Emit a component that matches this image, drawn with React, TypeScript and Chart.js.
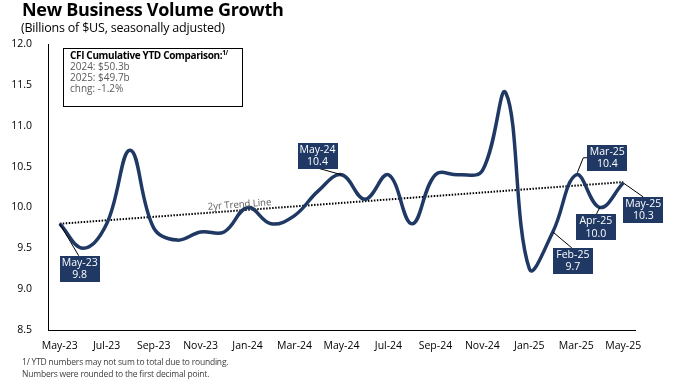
import React, { useEffect, useRef } from 'react';
import { Chart, registerables } from 'chart.js';

Chart.register(...registerables);

const months = [
  'May-23', 'Jun-23', 'Jul-23', 'Aug-23', 'Sep-23', 'Oct-23', 'Nov-23', 'Dec-23',
  'Jan-24', 'Feb-24', 'Mar-24', 'Apr-24', 'May-24', 'Jun-24', 'Jul-24', 'Aug-24',
  'Sep-24', 'Oct-24', 'Nov-24', 'Dec-24', 'Jan-25', 'Feb-25', 'Mar-25', 'Apr-25', 'May-25',
];

const volume = [
  9.8, 9.5, 9.8, 10.7, 9.75, 9.6, 9.7, 9.7,
  10.0, 9.8, 9.9, 10.2, 10.4, 10.1, 10.4, 9.8,
  10.4, 10.4, 10.45, 11.4, 9.25, 9.7, 10.4, 10.0, 10.3,
];

const trendStart = 9.8;
const trendEnd = 10.31;

const yMin = 8.5;
const yMax = 12.0;
const yStep = 0.5;

const calloutMonths = ['May-23', 'May-24', 'Feb-25', 'Mar-25', 'Apr-25', 'May-25'];

const legendTitle = 'CFI Cumulative YTD Comparison:';
const legendLines = ['2024: $50.3b', '2025: $49.7b', 'chng: -1.2%'];
const footnotes = [
  '1/ YTD numbers may not sum to total due to rounding.',
  'Numbers were rounded to the first decimal point.',
];

const NAVY = '#1f3864';
const FONT = '"Open Sans", "DejaVu Sans", sans-serif';

// callout box placement relative to its point (pixels)
const calloutLayout: Record<string, { dx: number; dy: number; elbow?: boolean; lx?: number; ly?: number }> = {
  'May-23': { dx: 20, dy: 45, lx: 19, ly: 32 },
  'May-24': { dx: -24, dy: -19, lx: -25, ly: -7 },
  'Feb-25': { dx: 20, dy: 29, lx: 19, ly: 16 },
  'Mar-25': { dx: 31, dy: -17, elbow: true },
  'Apr-25': { dx: -4, dy: 20, lx: -4, ly: 8 },
  'May-25': { dx: 20, dy: 27, lx: 20, ly: 14 },
};

const calloutPlugin = {
  id: 'callouts',
  afterDatasetsDraw(chart: any) {
    const ctx = chart.ctx;
    const meta = chart.getDatasetMeta(0);
    // trend label
    const tmeta = chart.getDatasetMeta(1);
    const p0 = tmeta.data[0];
    const p1 = tmeta.data[1];
    if (p0 && p1) {
      const ang = Math.atan2(p1.y - p0.y, p1.x - p0.x);
      const tx = 240;
      const ty = p0.y + (p1.y - p0.y) * (tx - p0.x) / (p1.x - p0.x);
      ctx.save();
      ctx.translate(tx, ty);
      ctx.rotate(ang);
      ctx.fillStyle = '#595959';
      ctx.font = `9.5px ${FONT}`;
      ctx.textAlign = 'center';
      ctx.textBaseline = 'alphabetic';
      ctx.fillText('2yr Trend Line', 0, -3);
      ctx.restore();
    }

    const bw = 40;
    const bh = 26;
    calloutMonths.forEach((m) => {
      const i = months.indexOf(m);
      const pt = meta.data[i];
      if (!pt) return;
      const lay = calloutLayout[m];
      const cx = pt.x + lay.dx;
      const cy = pt.y + lay.dy;
      ctx.save();
      ctx.strokeStyle = '#000';
      ctx.lineWidth = 1;
      ctx.beginPath();
      if (lay.elbow) {
        const left = cx - bw / 2;
        ctx.moveTo(pt.x + 1, pt.y - 2);
        ctx.lineTo(left - 4, cy);
        ctx.lineTo(left, cy);
      } else {
        ctx.moveTo(pt.x, pt.y);
        ctx.lineTo(pt.x + (lay.lx ?? 0), pt.y + (lay.ly ?? 0));
      }
      ctx.stroke();
      ctx.fillStyle = NAVY;
      ctx.fillRect(Math.round(cx - bw / 2), Math.round(cy - bh / 2), bw, bh);
      ctx.fillStyle = '#ffffff';
      ctx.font = `10.5px ${FONT}`;
      ctx.textAlign = 'center';
      ctx.textBaseline = 'middle';
      ctx.fillText(m, cx, cy - 6);
      ctx.fillText(volume[i].toFixed(1), cx, cy + 6.5);
      ctx.restore();
    });
  },
};

export default function App() {
  const ref = useRef<HTMLCanvasElement | null>(null);

  useEffect(() => {
    if (!ref.current) return;
    const chart = new Chart(ref.current, {
      type: 'line',
      data: {
        labels: months,
        datasets: [
          {
            label: 'New Business Volume',
            data: volume,
            borderColor: NAVY,
            borderWidth: 3.5,
            pointRadius: 0,
            tension: 0.4,
            fill: false,
            order: 0,
          },
          {
            label: '2yr Trend Line',
            data: [
              { x: months[0], y: trendStart },
              { x: months[months.length - 1], y: trendEnd },
            ] as any,
            borderColor: '#000000',
            borderWidth: 2,
            borderDash: [1.5, 1.5],
            pointRadius: 0,
            tension: 0,
            fill: false,
            order: 1,
          },
        ],
      },
      options: {
        responsive: false,
        animation: false,
        devicePixelRatio: 1,
        layout: { padding: { left: 0, right: 44, top: 44, bottom: 0 } },
        plugins: {
          legend: { display: false },
          tooltip: { enabled: false },
          title: { display: false },
        },
        scales: {
          x: {
            type: 'category',
            offset: true,
            grid: { display: false },
            border: { color: '#000', width: 1 },
            ticks: {
              autoSkip: false,
              maxRotation: 0,
              minRotation: 0,
              color: '#000',
              font: { family: FONT, size: 10.5 },
              padding: 2,
              callback: (_v: any, i: number) => (i % 2 === 0 ? months[i] : ''),
            },
            afterFit: (s: any) => {
              s.height = 56;
            },
          },
          y: {
            min: yMin,
            max: yMax,
            grid: { display: false },
            border: { color: '#000', width: 1 },
            ticks: {
              stepSize: yStep,
              color: '#000',
              font: { family: FONT, size: 10.5 },
              padding: 8,
              callback: (v: any) => Number(v).toFixed(1),
            },
            afterFit: (s: any) => {
              s.width = 48;
            },
          },
        },
      },
      plugins: [calloutPlugin],
    });
    return () => chart.destroy();
  }, []);

  return (
    <div style={{ position: 'fixed', left: 0, top: 0, width: 679, height: 386, background: '#fff', overflow: 'hidden' }}>
      <canvas ref={ref} width={679} height={386} style={{ position: 'absolute', left: 0, top: 0 }} />
      <div
        style={{
          position: 'absolute', left: 22, top: 0, fontFamily: FONT, fontWeight: 700,
          fontSize: 18, lineHeight: 1, color: '#000', whiteSpace: 'nowrap', letterSpacing: -0.3,
        }}
      >
        New Business Volume Growth
      </div>
      <div
        style={{
          position: 'absolute', left: 21, top: 22, fontFamily: FONT, fontSize: 12.5,
          lineHeight: 1, color: '#000', whiteSpace: 'nowrap', letterSpacing: -0.2,
        }}
      >
        (Billions of $US, seasonally adjusted)
      </div>
      <div
        style={{
          position: 'absolute', left: 63, top: 48, width: 180, height: 59, boxSizing: 'border-box',
          border: '1px solid #000', background: '#fff', fontFamily: FONT, fontSize: 10,
          lineHeight: '11px', color: '#595959', padding: '1px 0 0 6px', whiteSpace: 'nowrap',
        }}
      >
        <div style={{ fontWeight: 700, color: '#000', letterSpacing: -0.35 }}>
          {legendTitle}
          <sup style={{ fontSize: 6.5, lineHeight: 0 }}>1/</sup>
        </div>
        {legendLines.map((l) => (
          <div key={l}>{l}</div>
        ))}
      </div>
      <div
        style={{
          position: 'absolute', left: 22, top: 356, fontFamily: FONT, fontSize: 8.5,
          lineHeight: '12px', color: '#404040', whiteSpace: 'nowrap', letterSpacing: -0.2,
        }}
      >
        {footnotes.map((f) => (
          <div key={f}>{f}</div>
        ))}
      </div>
    </div>
  );
}
